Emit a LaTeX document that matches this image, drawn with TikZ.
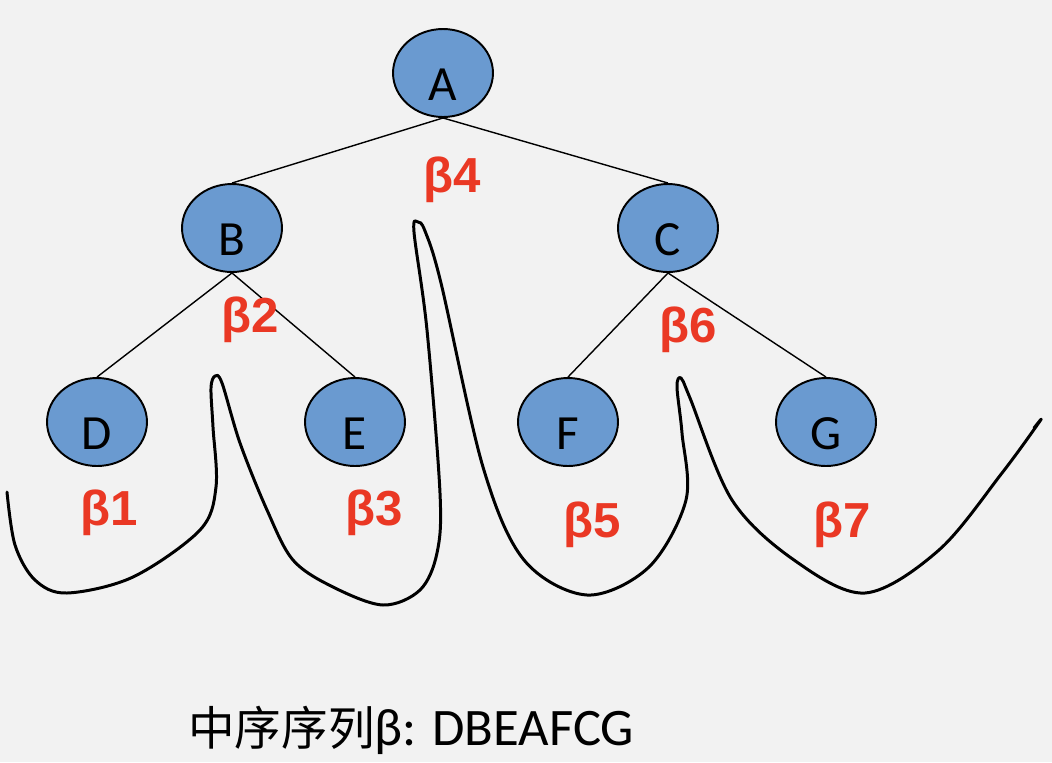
\documentclass[tikz,border=0pt]{standalone}
\usepackage{fontspec}
\setmainfont{Carlito}
\newfontfamily\cjk{Noto Sans CJK SC}
\newfontfamily\lblfont{Liberation Sans}
\usetikzlibrary{shapes.geometric}
\definecolor{nodeblue}{RGB}{106,154,208}
\definecolor{betared}{RGB}{234,56,36}
\definecolor{bggray}{RGB}{242,242,242}
\tikzset{
  tnode/.style={ellipse, draw=black, line width=1.1pt, fill=nodeblue,
                minimum width=2cm, minimum height=1.76cm, inner sep=0pt,
                font=\fontsize{28}{30}\selectfont, text height=1.08cm, text depth=0pt},
  tedge/.style={line width=0.8pt},
  blbl/.style={anchor=base, inner sep=0pt, text=betared,
               font=\lblfont\bfseries\fontsize{28}{30}\selectfont},
  walk/.style={line width=1.7pt, line join=round, line cap=round}
}

\begin{document}
\begin{tikzpicture}[x=0.02cm, y=-0.02cm]
    \fill[bggray] (0,0) rectangle (1052,762);
    % tree
    \node[tnode] (a) at (443,73) {A};
    \node[tnode] (b) at (232,228) {B};
    \node[tnode] (c) at (668,228) {C};
    \node[tnode] (d) at (97,422) {D};
    \node[tnode] (e) at (355,422) {E};
    \node[tnode] (f) at (568,422) {F};
    \node[tnode] (g) at (826,422) {G};
    \draw[tedge] (a.south) -- (b.north);
    \draw[tedge] (a.south) -- (c.north);
    \draw[tedge] (b.south) -- (d.north);
    \draw[tedge] (b.south) -- (e.north);
    \draw[tedge] (c.south) -- (f.north);
    \draw[tedge] (c.south) -- (g.north);
    % beta labels
    \node[blbl] (l1) at (109,525) {β1};
    \node[blbl] (l2) at (250,332) {β2};
    \node[blbl] (l3) at (374,525) {β3};
    \node[blbl] (l4) at (452,192) {β4};
    \node[blbl] (l5) at (592,537) {β5};
    \node[blbl] (l6) at (688,342) {β6};
    \node[blbl] (l7) at (842,537) {β7};
    % traversal curve
    \draw[walk] plot[smooth, tension=0.55] coordinates {
      (7,492) (15,545) (35,580) (67,593) (133,577) (200,530) (216,487)
      (213,427) (211,388) (215,376) (222,383) (240,443) (267,510) (293,560)
      (333,587) (383,605) (420,590) (437,553) (440,493) (427,330) (414,232)
      (418,222) (425,231) (441,283) (483,467) (524,560) (587,595) (649,567)
      (686,500) (682,433) (677,387) (681,378) (690,398) (732,500) (794,560)
      (865,593) (939,550) (1002,473) (1040,421) (1034,428)};
    % caption
    \node[anchor=base west, inner sep=0pt, font=\fontsize{30}{32}\selectfont]
      (cap) at (188,745) {{\cjk\fontsize{26.5}{30}\selectfont 中序序列}β: DBEAFCG};
\end{tikzpicture}
\end{document}
